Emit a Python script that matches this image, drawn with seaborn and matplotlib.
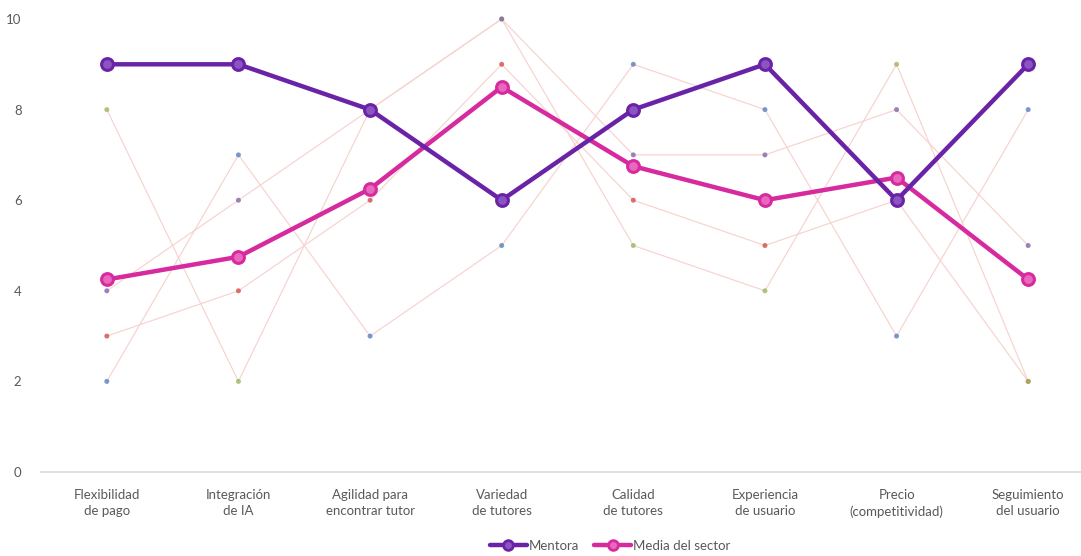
import numpy as np
import pandas as pd
import matplotlib
matplotlib.use("Agg")
import matplotlib.pyplot as plt
from matplotlib.lines import Line2D
import seaborn as sns

# Criteria evaluated
categories = [
    "Flexibilidad\nde pago",
    "Integración\nde IA",
    "Agilidad para\nencontrar tutor",
    "Variedad\nde tutores",
    "Calidad\nde tutores",
    "Experiencia\nde usuario",
    "Precio\n(competitividad)",
    "Seguimiento\ndel usuario",
]

# Scores of the platform and the sector average
mentora = [9, 9, 8, 6, 8, 9, 6, 9]
media_sector = [4.25, 4.75, 6.25, 8.5, 6.75, 6.0, 6.5, 4.25]

# Individual competitor scores (faint background series)
comp_azul = [2, 7, 3, 5, 9, 8, 3, 8]
comp_rojo = [3, 4, 6, 9, 6, 5, 6, 2]
comp_verde = [8, 2, 8, 10, 5, 4, 9, 2]
comp_morado = [4, 6, 8, 10, 7, 7, 8, 5]

y_ticks = [0, 2, 4, 6, 8, 10]

sns.set_theme(style="white")
plt.rcParams["font.family"] = ["Lato", "DejaVu Sans"]

C_MENTORA = "#6a22a6"
C_MEDIA = "#d62a9e"
C_FAINT = "#f6d3cf"
TXT = "#595959"

pos = np.arange(len(categories))

comp = pd.DataFrame({
    "pos": np.tile(pos, 4),
    "valor": comp_azul + comp_rojo + comp_verde + comp_morado,
    "comp": np.repeat(["azul", "rojo", "verde", "morado"], len(categories)),
})
comp_palette = {"azul": "#5b7fc4", "rojo": "#d0504a", "verde": "#9cb85c", "morado": "#8466a6"}

main = pd.DataFrame({
    "pos": np.tile(pos, 2),
    "valor": mentora + media_sector,
    "serie": np.repeat(["Mentora", "Media del sector"], len(categories)),
})

W, H = 1081, 556
fig = plt.figure(figsize=(W / 100, H / 100), dpi=100)
x0, x1 = 41, 1094
ax = fig.add_axes([x0 / W, 1 - 472 / H, (x1 - x0) / W, (472 - 19) / H])

# Faint competitor lines with their coloured dots
sns.lineplot(data=comp, x="pos", y="valor", units="comp", estimator=None,
             color=C_FAINT, lw=0.85, ax=ax, legend=False, zorder=1)
sns.scatterplot(data=comp, x="pos", y="valor", hue="comp", palette=comp_palette,
                s=13, linewidth=0, alpha=0.8, ax=ax, legend=False, zorder=2,
                clip_on=False)

# Highlighted series
for name, color, face in [("Mentora", C_MENTORA, "#8a55c0"), ("Media del sector", C_MEDIA, "#e868bd")]:
    sub = main[main["serie"] == name]
    sns.lineplot(data=sub, x="pos", y="valor", color=color, lw=3.2,
                 marker="o", markersize=8.5, markerfacecolor=face,
                 markeredgecolor=color, markeredgewidth=2.2,
                 ax=ax, legend=False, zorder=4 if name == "Mentora" else 3)

ax.set_xlim(-0.5, 7.5)
ax.set_ylim(0, 10)
ax.set_xticks(pos)
ax.set_xticklabels(categories, fontsize=9.5, color=TXT, linespacing=1.45)
ax.set_yticks(y_ticks)
ax.set_yticklabels([str(t) for t in y_ticks], fontsize=9.5, color=TXT)
ax.tick_params(axis="both", length=0)
ax.tick_params(axis="x", pad=12)
ax.tick_params(axis="y", pad=14)
ax.set_xlabel("")
ax.set_ylabel("")
for s in ["top", "right", "left"]:
    ax.spines[s].set_visible(False)
ax.spines["bottom"].set_color("#d9d9d9")
ax.spines["bottom"].set_linewidth(1.2)
ax.grid(False)
for line in ax.lines:
    line.set_clip_on(False)

handles = [
    Line2D([], [], color=C_MENTORA, lw=3.2, marker="o", markersize=7,
           markerfacecolor="#8a55c0", markeredgecolor=C_MENTORA, markeredgewidth=2),
    Line2D([], [], color=C_MEDIA, lw=3.2, marker="o", markersize=7,
           markerfacecolor="#e868bd", markeredgecolor=C_MEDIA, markeredgewidth=2),
]
fig.legend(handles, ["Mentora", "Media del sector"], loc="center",
           bbox_to_anchor=(610 / W, 1 - 546 / H), ncol=2, frameon=False,
           fontsize=9.5, labelcolor=TXT, handlelength=2.8, handletextpad=0.1,
           columnspacing=1.2, numpoints=1)

fig.savefig("out.png", dpi=100, facecolor="white")
